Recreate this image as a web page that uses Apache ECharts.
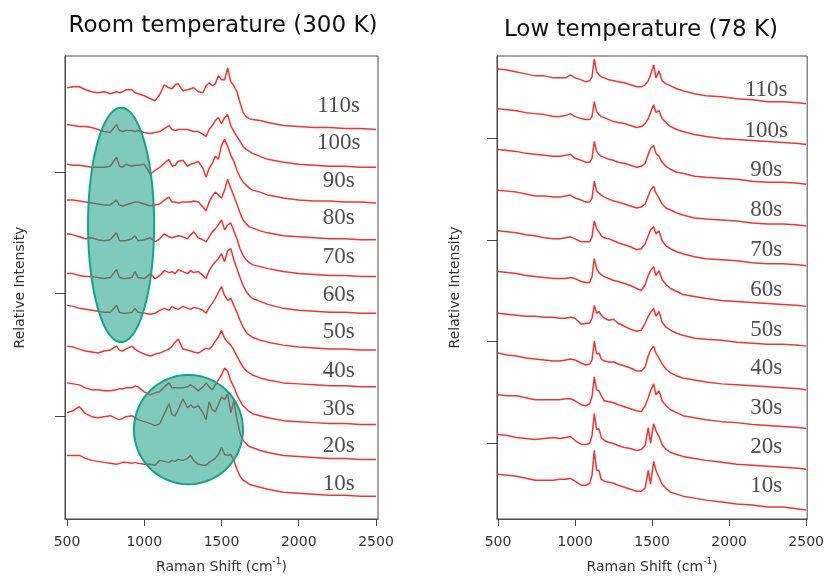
<!DOCTYPE html>
<html>
<head>
<meta charset="utf-8">
<title>Raman spectra vs time</title>
<script src="https://cdn.jsdelivr.net/npm/echarts@6/dist/echarts.min.js"></script>
<style>
    html, body { margin: 0; padding: 0; background: #ffffff; }
    #chart { width: 827px; height: 579px; }
</style>
</head>
<body>
<div id="chart"></div>
<script>
// acquisition times, bottom spectrum first
const timeLabels = ['10s', '20s', '30s', '40s', '50s', '60s', '70s', '80s', '90s', '100s', '110s'];
const shiftTicks = [500, 1000, 1500, 2000, 2500];

// ---- room temperature (300 K) ----
const roomShift = [500, 540, 580, 620, 660, 700, 740, 780, 820, 840, 860, 880, 920, 940, 960,
    1000, 1040, 1070, 1100, 1130, 1160, 1180, 1200, 1220, 1250, 1280, 1300, 1320, 1350, 1380,
    1400, 1420, 1440, 1460, 1480, 1500, 1520, 1540, 1560, 1580, 1600, 1620, 1640, 1660, 1680,
    1700, 1750, 1800, 1900, 2000, 2100, 2200, 2300, 2400, 2500];
// vertical offset of each trace (stacking)
const roomOffset = [23, 60, 95, 133, 170, 207, 244, 281, 318, 354, 392];
const roomSpectra = [
    [41, 41, 41, 38, 36, 35, 34, 33, 32, 33, 34, 34, 33, 34, 33, 32, 32, 31, 36, 35, 34, 36, 35, 37, 36, 38, 41, 36, 32, 31, 31, 34, 36, 38, 42, 49, 42, 41, 42, 36, 27, 20, 16, 14, 12, 11, 9, 7, 4, 3, 2, 1, 1, 0, 0],
    [47, 49, 53, 46, 43, 42, 43, 44, 41, 40, 41, 43, 44, 42, 40, 38, 36, 34, 36, 46, 56, 45, 44, 50, 61, 52, 55, 52, 54, 47, 40, 58, 50, 48, 55, 63, 60, 66, 47, 59, 40, 26, 19, 16, 13, 12, 9, 7, 4, 3, 2, 1, 1, 0, 0],
    [42, 41, 40, 37, 35, 35, 34, 34, 35, 36, 36, 37, 37, 39, 38, 33, 30, 32, 33, 38, 42, 37, 37, 37, 37, 38, 40, 38, 34, 38, 42, 38, 35, 40, 45, 50, 57, 54, 44, 38, 30, 24, 19, 16, 13, 11, 9, 7, 4, 3, 2, 1, 1, 0, 0],
    [41, 40, 38, 36, 35, 34, 36, 37, 41, 37, 36, 38, 41, 38, 36, 33, 31, 33, 34, 36, 38, 41, 45, 48, 38, 37, 36, 35, 34, 37, 39, 38, 41, 46, 50, 57, 49, 45, 42, 37, 31, 25, 20, 16, 14, 12, 9, 7, 4, 3, 2, 1, 1, 0, 0],
    [45, 44, 42, 41, 40, 39, 38, 38, 45, 38, 37, 37, 38, 42, 38, 37, 36, 37, 40, 42, 40, 44, 42, 41, 44, 42, 41, 43, 42, 40, 37, 43, 47, 52, 58, 64, 55, 50, 52, 45, 38, 30, 23, 18, 15, 13, 10, 8, 5, 3, 2, 1, 1, 0, 0],
    [40, 40, 38, 37, 37, 36, 35, 36, 44, 36, 35, 35, 36, 42, 36, 35, 40, 35, 38, 43, 41, 42, 40, 44, 42, 40, 43, 41, 42, 38, 35, 43, 48, 52, 55, 60, 52, 63, 65, 54, 45, 36, 28, 22, 18, 15, 12, 9, 5, 3, 2, 1, 1, 0, 0],
    [43, 42, 40, 38, 39, 37, 36, 37, 44, 36, 36, 36, 38, 41, 36, 37, 39, 35, 38, 43, 40, 39, 40, 41, 40, 38, 42, 45, 39, 37, 35, 40, 45, 48, 52, 57, 47, 52, 54, 46, 38, 28, 21, 17, 14, 12, 10, 8, 5, 3, 2, 1, 1, 0, 0],
    [40, 40, 39, 38, 37, 36, 35, 35, 40, 35, 34, 35, 37, 38, 38, 36, 34, 35, 36, 40, 43, 38, 38, 37, 38, 38, 38, 39, 38, 33, 29, 38, 44, 48, 45, 42, 50, 61, 52, 44, 36, 27, 20, 16, 13, 12, 9, 7, 4, 3, 2, 1, 1, 0, 0],
    [39, 38, 38, 37, 36, 36, 36, 37, 46, 37, 36, 39, 37, 38, 38, 39, 29, 33, 36, 40, 44, 37, 38, 42, 43, 37, 39, 40, 42, 35, 26, 35, 40, 47, 44, 58, 64, 57, 48, 42, 33, 26, 21, 18, 15, 13, 11, 8, 5, 3, 2, 2, 1, 1, 0],
    [43, 42, 41, 41, 40, 38, 36, 35, 43, 37, 36, 37, 37, 36, 37, 35, 34, 35, 36, 39, 42, 38, 37, 38, 38, 38, 37, 36, 36, 33, 31, 38, 42, 47, 50, 44, 50, 53, 42, 36, 31, 26, 21, 18, 16, 14, 11, 8, 5, 3, 2, 1, 1, 0, 0],
    [42, 43, 43, 40, 38, 37, 38, 36, 38, 37, 38, 40, 40, 37, 36, 34, 31, 29, 35, 45, 42, 41, 45, 46, 39, 40, 41, 42, 38, 37, 44, 47, 44, 46, 54, 50, 50, 62, 48, 44, 38, 27, 17, 13, 11, 10, 9, 7, 4, 3, 2, 2, 1, 1, 0]
];
const roomLabelY = [35, 74, 111, 149, 188, 226, 264, 303, 340, 378, 416];
// highlighted regions: [centre shift, centre intensity, half width, half height]
const roomMarks = [
    [850, 296, 214, 118],
    [1286, 90, 353, 55]
];

// ---- low temperature (78 K) ----
const lowShift = [500, 560, 620, 680, 740, 800, 860, 900, 940, 970, 1000, 1040, 1070,
    1095, 1110, 1125, 1140, 1155, 1170, 1190, 1220, 1250, 1280, 1320, 1360, 1400, 1430, 1455,
    1475, 1490, 1510, 1525, 1545, 1565, 1590, 1620, 1660, 1700, 1775, 1850, 1950, 2050, 2150,
    2250, 2350, 2450, 2500];
const lowOffset = [9, 50, 91, 130, 174, 214, 255, 295, 337, 377, 418];
const lowSpectra = [
    [36, 35, 34, 32, 30, 30, 30, 31, 31, 32, 29, 25, 25, 27, 35, 60, 40, 40, 31, 29, 28, 27, 25, 23, 21, 19, 19, 22, 40, 26, 49, 40, 33, 26, 22, 18, 16, 14, 12, 10, 8, 6, 5, 3, 3, 1, 0],
    [35, 34, 32, 31, 30, 31, 32, 31, 32, 33, 29, 25, 25, 26, 34, 56, 40, 41, 32, 29, 27, 26, 24, 22, 21, 19, 20, 24, 42, 26, 46, 39, 33, 25, 20, 17, 15, 13, 11, 9, 7, 5, 4, 3, 2, 1, 0],
    [34, 33, 33, 31, 29, 29, 29, 29, 30, 30, 28, 24, 23, 25, 32, 52, 39, 38, 33, 28, 27, 26, 24, 22, 20, 18, 17, 23, 31, 38, 45, 34, 38, 28, 23, 19, 16, 13, 11, 9, 7, 6, 4, 3, 2, 1, 0],
    [37, 35, 34, 32, 31, 30, 29, 29, 30, 31, 30, 27, 25, 26, 30, 49, 36, 37, 31, 29, 28, 28, 26, 24, 22, 19, 19, 23, 34, 40, 44, 37, 32, 26, 21, 17, 14, 12, 10, 8, 6, 5, 4, 3, 2, 1, 0],
    [33, 32, 31, 30, 30, 29, 29, 28, 28, 29, 28, 22, 23, 23, 28, 41, 33, 35, 31, 28, 26, 27, 23, 20, 17, 15, 16, 23, 30, 34, 38, 30, 35, 24, 19, 16, 13, 11, 8, 7, 6, 4, 3, 2, 2, 1, 0],
    [35, 34, 33, 31, 30, 29, 28, 28, 28, 29, 28, 25, 24, 24, 30, 48, 38, 34, 32, 30, 28, 26, 25, 23, 21, 18, 16, 22, 31, 36, 40, 31, 36, 27, 22, 18, 15, 12, 10, 8, 6, 5, 4, 3, 2, 1, 0],
    [35, 34, 33, 31, 30, 28, 27, 27, 28, 29, 27, 24, 24, 24, 29, 45, 37, 34, 30, 28, 27, 25, 23, 21, 19, 16, 17, 22, 30, 36, 39, 32, 35, 25, 20, 17, 14, 12, 9, 7, 6, 5, 3, 2, 2, 1, 0],
    [36, 35, 34, 32, 30, 30, 29, 29, 30, 31, 28, 26, 24, 24, 28, 45, 35, 33, 31, 29, 27, 25, 24, 22, 20, 18, 19, 22, 30, 36, 40, 33, 28, 22, 18, 16, 13, 11, 8, 7, 6, 5, 3, 2, 2, 1, 0],
    [35, 34, 33, 31, 30, 29, 28, 28, 29, 30, 26, 24, 22, 22, 26, 43, 33, 30, 28, 27, 25, 24, 22, 21, 19, 17, 18, 21, 30, 36, 39, 31, 28, 22, 18, 15, 12, 11, 8, 7, 6, 5, 3, 2, 2, 1, 0],
    [36, 35, 34, 32, 31, 30, 28, 28, 29, 31, 28, 26, 25, 25, 28, 43, 33, 30, 28, 27, 25, 23, 22, 21, 19, 17, 18, 21, 26, 32, 40, 32, 34, 26, 22, 18, 15, 13, 10, 8, 6, 5, 4, 3, 2, 1, 0],
    [35, 34, 32, 30, 28, 28, 26, 26, 26, 29, 26, 24, 22, 23, 27, 45, 32, 29, 27, 26, 24, 23, 22, 21, 19, 17, 17, 19, 23, 29, 39, 26, 33, 23, 20, 18, 15, 13, 10, 8, 7, 5, 4, 2, 2, 1, 0]
];
const lowLabelY = [33, 73, 112, 152, 190, 231, 271, 311, 351, 391, 432];

const lineColor = '#f03434';
const frameColor = '#4a4a4a';
const labelFont = 'DejaVu Sans';

function buildSpectraSeries(shifts, spectra, offsets, axisIndex) {
    return spectra.map((values, i) => ({
        name: timeLabels[i],
        type: 'line',
        xAxisIndex: axisIndex,
        yAxisIndex: axisIndex,
        symbol: 'none',
        silent: true,
        z: 2,
        lineStyle: { color: lineColor, width: 1.5 },
        data: shifts.map((x, j) => [x, offsets[i] + values[j]])
    }));
}

function buildLabelSeries(labelX, labelY, axisIndex) {
    return {
        type: 'scatter',
        xAxisIndex: axisIndex,
        yAxisIndex: axisIndex,
        symbolSize: 1,
        silent: true,
        z: 3,
        itemStyle: { color: 'rgba(0,0,0,0)' },
        label: {
            show: true,
            position: 'inside',
            formatter: (p) => p.data[2],
            fontFamily: 'Liberation Serif',
            fontSize: 23,
            color: '#222222'
        },
        data: labelY.map((y, i) => [labelX, y, timeLabels[i]])
    };
}

function renderEllipse(params, api) {
    const cx = api.value(0);
    const cy = api.value(1);
    const rx = api.value(2);
    const ry = api.value(3);
    const points = [];
    for (let k = 0; k < 90; k++) {
        const t = k / 90 * Math.PI * 2;
        points.push(api.coord([cx + rx * Math.cos(t), cy + ry * Math.sin(t)]));
    }
    return {
        type: 'polygon',
        shape: { points: points },
        style: { fill: 'rgba(20,158,134,0.55)', stroke: '#16a389', lineWidth: 2 }
    };
}

function makeXAxis(axisIndex, min, max) {
    return {
        type: 'value',
        gridIndex: axisIndex,
        min: min,
        max: max,
        name: '{n|Raman Shift (cm}{s|-1}{n|)}',
        nameLocation: 'middle',
        nameGap: 38,
        nameTextStyle: {
            rich: {
                n: { fontFamily: labelFont, fontSize: 14, color: '#333', lineHeight: 17, verticalAlign: 'bottom' },
                s: { fontFamily: labelFont, fontSize: 9, color: '#333', lineHeight: 17, verticalAlign: 'top' }
            }
        },
        axisLine: { show: true, lineStyle: { color: frameColor, width: 1 } },
        axisTick: { show: true, length: 7, customValues: shiftTicks, lineStyle: { color: frameColor } },
        axisLabel: {
            customValues: shiftTicks,
            formatter: (v) => String(v),
            margin: 16,
            fontFamily: labelFont,
            fontSize: 14,
            color: '#333'
        },
        splitLine: { show: false }
    };
}

function makeYAxis(axisIndex, ticks, gap) {
    return {
        type: 'value',
        gridIndex: axisIndex,
        min: 0,
        max: 466,
        name: 'Relative Intensity',
        nameLocation: 'middle',
        nameGap: gap,
        nameTextStyle: { fontFamily: labelFont, fontSize: 14, color: '#333' },
        axisLine: { show: true, lineStyle: { color: frameColor, width: 1 } },
        axisTick: { show: true, length: 10, customValues: ticks, lineStyle: { color: frameColor } },
        axisLabel: { show: false },
        splitLine: { show: false }
    };
}

const chart = echarts.init(document.getElementById('chart'), null, { renderer: 'canvas' });

const option = {
    animation: false,
    backgroundColor: '#ffffff',
    title: [
        {
            text: 'Room temperature (300 K)',
            left: 223, top: 15, textAlign: 'center', padding: 0,
            textStyle: { fontFamily: labelFont, fontSize: 23, fontWeight: 'normal', color: '#111' }
        },
        {
            text: 'Low temperature (78 K)',
            left: 641, top: 19, textAlign: 'center', padding: 0,
            textStyle: { fontFamily: labelFont, fontSize: 23, fontWeight: 'normal', color: '#111' }
        }
    ],
    grid: [
        { left: 65, top: 56, width: 313, height: 466, show: true, borderColor: frameColor, borderWidth: 1 },
        { left: 497, top: 56, width: 311, height: 466, show: true, borderColor: frameColor, borderWidth: 1 }
    ],
    xAxis: [makeXAxis(0, 487, 2513), makeXAxis(1, 493.5, 2506.5)],
    yAxis: [makeYAxis(0, [103, 227, 349], 38), makeYAxis(1, [76, 179, 281, 383], 35)],
    series: [
        ...buildSpectraSeries(roomShift, roomSpectra, roomOffset, 0),
        ...buildSpectraSeries(lowShift, lowSpectra, lowOffset, 1),
        buildLabelSeries(2258, roomLabelY, 0),
        buildLabelSeries(2241, lowLabelY, 1),
        {
            type: 'custom',
            xAxisIndex: 0,
            yAxisIndex: 0,
            silent: true,
            z: 10,
            renderItem: renderEllipse,
            data: roomMarks
        }
    ]
};

chart.setOption(option);
</script>
</body>
</html>
